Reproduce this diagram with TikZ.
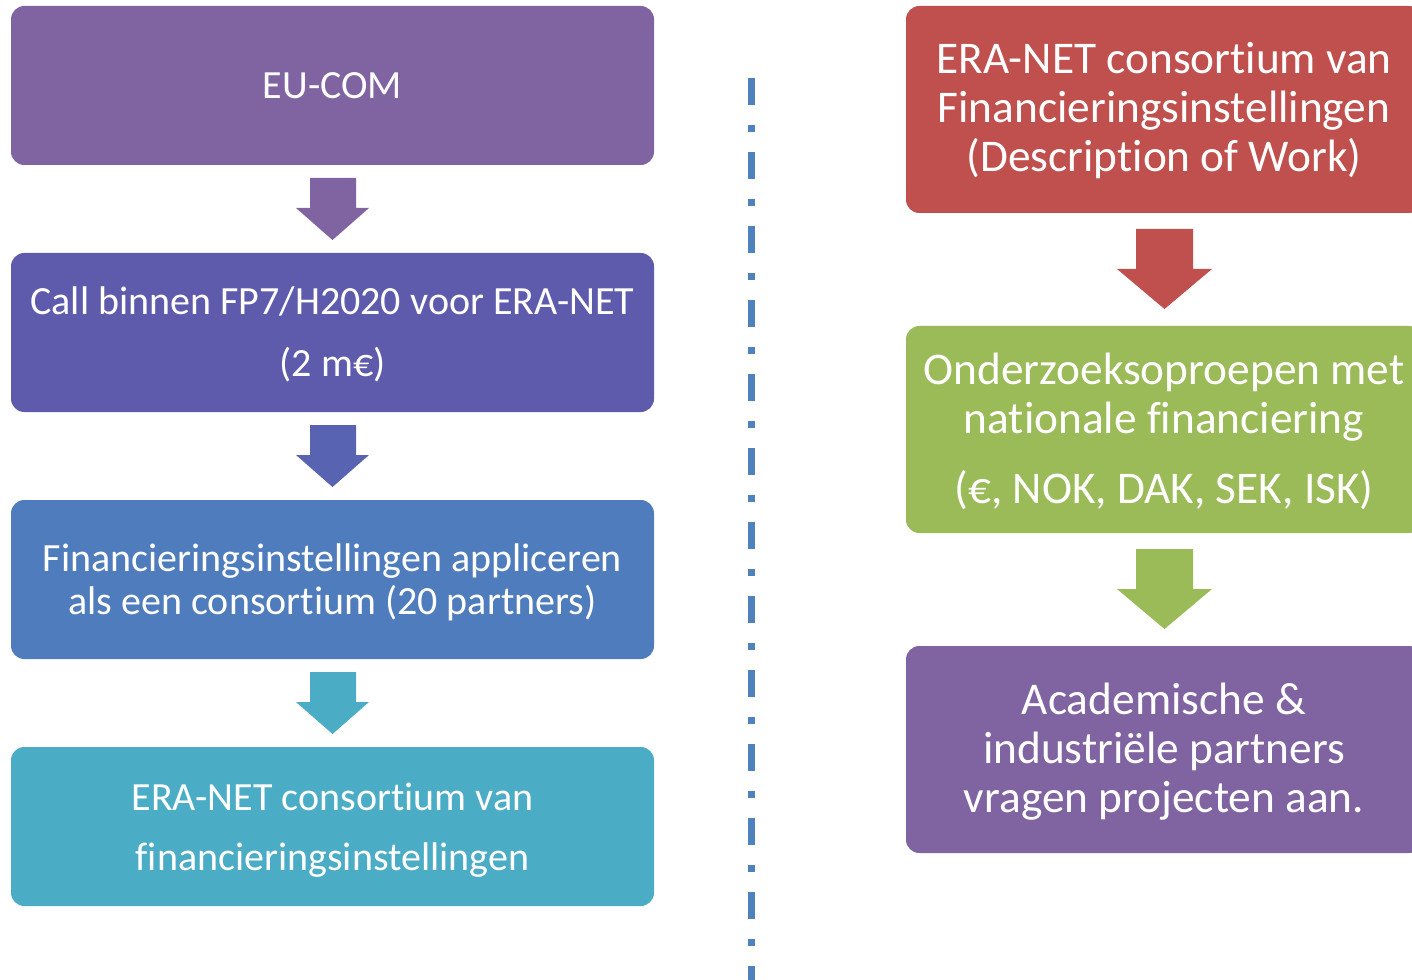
\documentclass[tikz,border=0pt]{standalone}
\usepackage{fontspec}
\setmainfont[Renderer=OpenType,RawFeature={-liga;-clig;-dlig;-calt;-rlig}]{Carlito}
\definecolor{cPurple}{HTML}{8064A2}
\definecolor{cIndigo}{HTML}{5E5BAD}
\definecolor{cIndigoArr}{HTML}{5864B2}
\definecolor{cBlue}{HTML}{4F7CBD}
\definecolor{cTeal}{HTML}{4BACC6}
\definecolor{cRed}{HTML}{C0504D}
\definecolor{cGreen}{HTML}{9BBB59}
\definecolor{cLine}{HTML}{4F81BD}
\begin{document}
\begin{tikzpicture}[x=0.75pt,y=-0.75pt,
  ltxt/.style={text=white,font=\fontsize{30}{36}\selectfont,inner sep=0pt,anchor=base},
  rtxt/.style={text=white,font=\fontsize{34}{40}\selectfont,inner sep=0pt,anchor=base}]
\useasboundingbox (0,0) rectangle (1412,980);
% left column boxes
\fill[cPurple,rounded corners=10pt] (11,6) rectangle (654,165);
\fill[cIndigo,rounded corners=10pt] (11,253) rectangle (654,412);
\fill[cBlue,rounded corners=10pt] (11,500) rectangle (654,659);
\fill[cTeal,rounded corners=10pt] (11,747) rectangle (654,906);
% left arrows
\foreach \t/\c in {178/cPurple,425/cIndigoArr,672/cTeal}{
  \fill[\c] (310,\t) -- (356,\t) -- (356,\t+30) -- (369,\t+30) -- (332.5,\t+62) -- (296,\t+30) -- (310,\t+30) -- cycle;
}
% right column boxes
\fill[cRed,rounded corners=10pt] (906,6) rectangle (1422,213);
\fill[cGreen,rounded corners=10pt] (906,326) rectangle (1422,533);
\fill[cPurple,rounded corners=10pt] (906,646) rectangle (1422,853);
% right arrows
\foreach \t/\c in {229/cRed,549/cGreen}{
  \fill[\c] (1136,\t) -- (1193,\t) -- (1193,\t+40) -- (1212,\t+40) -- (1164.5,\t+80) -- (1117,\t+40) -- (1136,\t+40) -- cycle;
}
% divider
\draw[cLine,line width=5.25pt,dash pattern=on 20.25pt off 15pt on 5.25pt off 15pt] (751,78) -- (751,990);
% left texts
\node[ltxt] (eucom) at (332.5,99) {EU-COM};
\node[ltxt] (call1) at (332.5,315) {Call binnen FP7/H2020 voor ERA-NET};
\node[ltxt] (call2) at (332.5,376) {(2 m€)};
\node[ltxt] (fin1) at (332.5,571) {Financieringsinstellingen appliceren};
\node[ltxt] (fin2) at (332.5,614) {als een consortium (20 partners)};
\node[ltxt] (era1) at (332.5,810) {ERA-NET consortium van};
\node[ltxt] (era2) at (332.5,870) {financieringsinstellingen};
% right texts
\node[rtxt] (r11) at (1164,74) {ERA-NET consortium van};
\node[rtxt] (r12) at (1164,123) {Financieringsinstellingen};
\node[rtxt] (r13) at (1164,172) {(Description of Work)};
\node[rtxt] (r21) at (1164,384) {Onderzoeksoproepen met};
\node[rtxt] (r22) at (1164,433) {nationale financiering};
\node[rtxt] (r23) at (1164,503) {(€, NOK, DAK, SEK, ISK)};
\node[rtxt] (r31) at (1164,714) {Academische \&};
\node[rtxt] (r32) at (1164,763) {industriële partners};
\node[rtxt] (r33) at (1164,812) {vragen projecten aan.};
\end{tikzpicture}
\end{document}
